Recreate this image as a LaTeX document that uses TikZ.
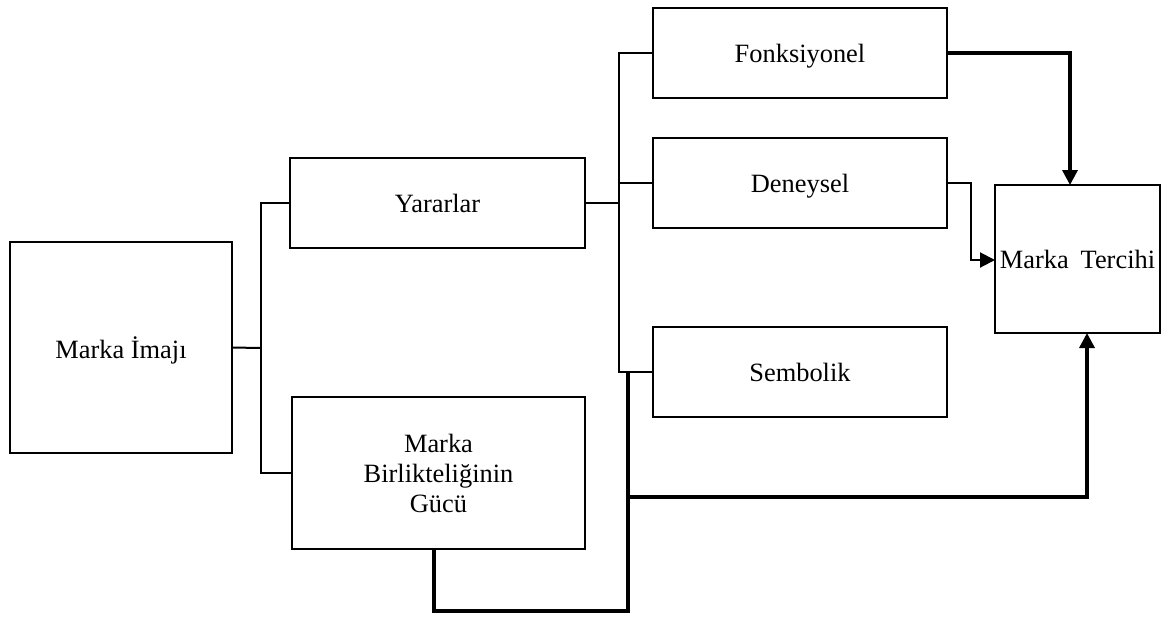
\documentclass[tikz,border=0pt]{standalone}
\usepackage{fontspec}
\setmainfont{Liberation Serif}
\usetikzlibrary{arrows.meta}
\begin{document}
\begin{tikzpicture}[x=0.5pt,y=-0.5pt,
  box/.style={draw,line width=1pt,inner sep=0pt,outer sep=0pt,align=center,text depth=0pt,
    font=\fontsize{13.2pt}{15pt}\selectfont},
  thin/.style={line width=1pt},
  thick/.style={line width=1.7pt},
  arr/.style={-{Triangle[length=7.5pt,width=7.5pt]}}]
\useasboundingbox (0,0) rectangle (1162,617);
\node[box,minimum width=111pt,minimum height=105.5pt] (img) at (121,347.5) {Marka İmajı};
\node[box,minimum width=147.5pt,minimum height=45pt] (yar) at (437.5,203) {Yararlar};
\node[box,minimum width=146.5pt,minimum height=76pt] (bir) at (438.5,473) {Marka\\Birlikteliğinin\\Gücü};
\node[box,minimum width=147pt,minimum height=45pt] (fon) at (800,53) {Fonksiyonel};
\node[box,minimum width=147pt,minimum height=45pt] (den) at (800,183) {Deneysel};
\node[box,minimum width=147pt,minimum height=45pt] (sem) at (800,372) {Sembolik};
\node[box,minimum width=82.5pt,minimum height=74pt] (ter) at (1077.5,259) {Marka\hspace{0.45em}Tercihi};
% left tree
\coordinate (j1) at (261,348);
\draw[thin] (img.east) -- (j1);
\draw[thin] (yar.west) -| (j1) |- (bir.west);
% middle tree
\coordinate (j2) at (619,203);
\draw[thin] (yar.east) -- (j2);
\draw[thin] (fon.west) -| (j2) |- (sem.west);
\draw[thin] (den.west) -- (den.west -| j2);
% thick loop from Birliktelik
\coordinate (b1) at (434,611);
\coordinate (b2) at (628,611);
\coordinate (b3) at (628,372);
\coordinate (b4) at (628,497);
\draw[thick] (bir.south -| b1) -- (b1) -- (b2) -- (b3);
\draw[thick,arr] (b4) -| (ter.south -| 1087,0);
% to Marka Tercihi
\draw[thick,arr] (fon.east) -| (ter.north -| 1070,0);
\draw[thin,arr] (den.east) -- ++(24,0) |- (ter.west |- 0,260);
\end{tikzpicture}
\end{document}
